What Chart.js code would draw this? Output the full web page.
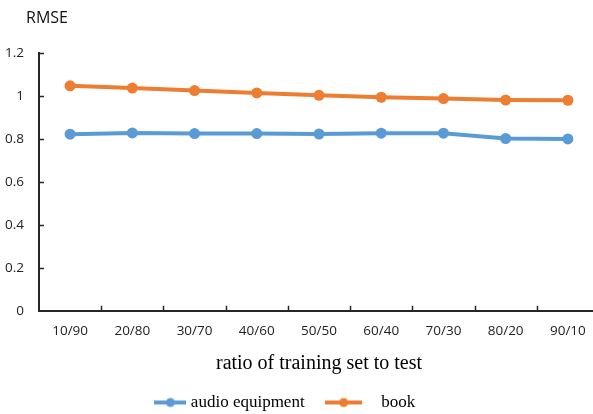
<!DOCTYPE html>
<html>
<head>
<meta charset="utf-8">
<script src="https://cdn.jsdelivr.net/npm/chart.js@4.4.1/dist/chart.umd.min.js"></script>
<style>
  html, body { margin: 0; padding: 0; background: #ffffff; overflow: hidden; }
  #wrap { width: 593px; height: 414px; overflow: hidden; }
  canvas { display: block; }
</style>
</head>
<body>
<!-- the plot runs a few pixels past the right edge of the frame -->
<div id="wrap"><canvas id="chart" width="599" height="414"></canvas></div>
<script>
// Train/test split ratios on the x axis
const ratios = ['10/90', '20/80', '30/70', '40/60', '50/50', '60/40', '70/30', '80/20', '90/10'];

// RMSE per split
const audioEquipment = [0.822, 0.828, 0.825, 0.825, 0.823, 0.827, 0.827, 0.802, 0.800];
const book = [1.047, 1.037, 1.025, 1.014, 1.003, 0.994, 0.988, 0.981, 0.980];

// y axis range
const yMin = 0;
const yMax = 1.2;
const yStep = 0.2;

const BLUE = '#5B9BD5';
const ORANGE = '#ED7D31';
const AXIS = '#262626';
const SANS = '"Open Sans", "DejaVu Sans", sans-serif';
const SERIF = '"Liberation Serif", "DejaVu Serif", serif';

// legend swatch: a short line with a dot in the middle
function legendSwatch(color, w) {
  const c = document.createElement('canvas');
  c.width = w; c.height = 12;
  const g = c.getContext('2d');
  g.strokeStyle = color;
  g.lineWidth = 4;
  g.beginPath(); g.moveTo(0, 6); g.lineTo(w, 6); g.stroke();
  g.fillStyle = color;
  g.beginPath(); g.arc(w / 2, 6, 4.5, 0, Math.PI * 2); g.fill();
  return c;
}
const swatches = [legendSwatch(BLUE, 32), legendSwatch(ORANGE, 37)];

// inward tick marks on both axes plus the unit label above the y axis
const axisMarks = {
  id: 'axisMarks',
  afterDraw(chart) {
    const { ctx, scales: { x, y } } = chart;
    ctx.save();
    ctx.strokeStyle = AXIS;
    ctx.lineWidth = 1.5;
    ctx.beginPath();
    for (let i = 0; i < ratios.length - 1; i++) {
      const px = Math.round((x.getPixelForValue(i) + x.getPixelForValue(i + 1)) / 2) + 0.5;
      ctx.moveTo(px, y.bottom);
      ctx.lineTo(px, y.bottom - 5);
    }
    y.ticks.forEach((t, i) => {
      if (t.value === yMin) return;
      const py = Math.round(y.getPixelForTick(i)) + 0.5;
      ctx.moveTo(x.left, py);
      ctx.lineTo(x.left + 5, py);
    });
    ctx.stroke();

    ctx.fillStyle = '#111';
    ctx.font = '16px ' + SANS;
    ctx.textAlign = 'left';
    ctx.textBaseline = 'middle';
    ctx.fillText('RMSE', 26, 18);
    ctx.restore();
  }
};

new Chart(document.getElementById('chart'), {
  type: 'line',
  data: {
    labels: ratios,
    datasets: [
      {
        label: 'audio equipment    ',
        data: audioEquipment,
        borderColor: BLUE,
        backgroundColor: BLUE,
        borderWidth: 4,
        pointRadius: 5.5,
        pointHoverRadius: 5.5,
        pointBorderWidth: 0,
        tension: 0,
        clip: false
      },
      {
        label: '    book      ',
        data: book,
        borderColor: ORANGE,
        backgroundColor: ORANGE,
        borderWidth: 4,
        pointRadius: 5.5,
        pointHoverRadius: 5.5,
        pointBorderWidth: 0,
        tension: 0,
        clip: false
      }
    ]
  },
  options: {
    responsive: false,
    animation: false,
    devicePixelRatio: 1,
    layout: { autoPadding: false, padding: { left: 0, right: 0, top: 53, bottom: -7 } },
    plugins: {
      tooltip: { enabled: false },
      legend: {
        position: 'bottom',
        labels: {
          usePointStyle: true,
          pointStyleWidth: 24,
          padding: 10,
          color: '#000',
          font: { family: SERIF, size: 17 },
          generateLabels(chart) {
            const items = Chart.defaults.plugins.legend.labels.generateLabels(chart);
            items.forEach((it, i) => { it.pointStyle = swatches[i]; });
            return items;
          }
        }
      }
    },
    scales: {
      x: {
        type: 'category',
        offset: true,
        grid: { display: false, offset: true, drawTicks: false },
        border: { display: true, color: AXIS, width: 2 },
        ticks: {
          color: '#222',
          font: { family: SANS, size: 13.5 },
          padding: 12,
          maxRotation: 0
        },
        title: {
          display: true,
          text: 'ratio of training set to test',
          color: '#000',
          font: { family: SERIF, size: 20 },
          padding: { top: 0.5, bottom: 8.5 }
        },
        afterFit(scale) {
          scale.paddingLeft = 0;
          scale.paddingRight = 0;
        }
      },
      y: {
        min: yMin,
        max: yMax,
        grid: { display: false, drawTicks: false },
        border: { display: true, color: AXIS, width: 2 },
        ticks: {
          stepSize: yStep,
          color: '#222',
          font: { family: SANS, size: 13.5 },
          padding: 15,
          callback: (v) => String(Number(v.toFixed(1)))
        },
        afterFit(scale) {
          scale.width = 39;
          scale.paddingTop = 0;
          scale.paddingBottom = 0;
        }
      }
    }
  },
  plugins: [axisMarks]
});
</script>
</body>
</html>
